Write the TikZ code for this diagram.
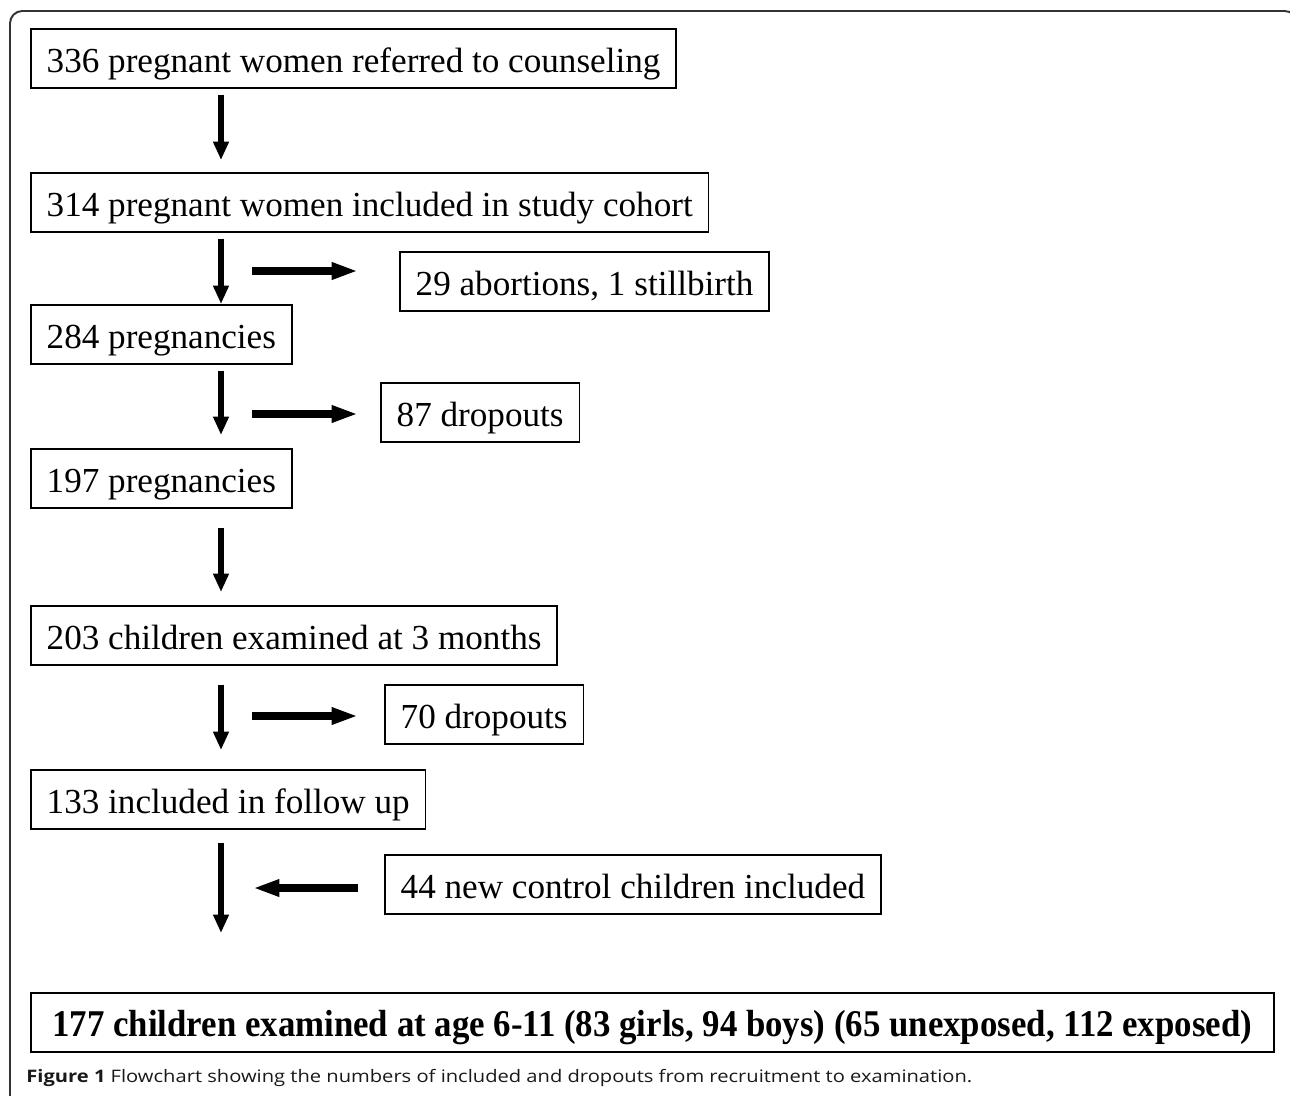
\documentclass[tikz,border=0pt]{standalone}
\usepackage{fontspec}
\usepackage{graphicx}
\setmainfont{Liberation Serif}
\newfontfamily\capfont{Open Sans}
\usetikzlibrary{arrows.meta}
\begin{document}
\begin{tikzpicture}[
     x=0.02cm,y=-0.02cm,
     blk/.style={draw,line width=1pt,anchor=north west,minimum height=1.18cm,
       inner xsep=9pt,text height=15.6pt,text depth=0pt,font=\fontsize{20}{24}\selectfont},
     varr/.style={line width=3.7pt,-{Triangle[length=10.5pt,width=8.5pt]}},
     harr/.style={line width=4.2pt,-{Triangle[length=15pt,width=9pt]}}
   ]
   \path[use as bounding box] (0,0) rectangle (1290,1095);
   \clip (0,0) rectangle (1290,1095);
   % Frame.
   \draw[line width=1.1pt,draw=black!80,rounded corners=7pt] (10,11) rectangle (1297,1130);
   % Main column.
   \node[blk] (b1) at (30,28) {336 pregnant women referred to counseling};
   \node[blk] (b2) at (30,172) {314 pregnant women included in study cohort};
   \node[blk] (b3) at (30,304) {284 pregnancies};
   \node[blk] (b4) at (30,448) {197 pregnancies};
   \node[blk] (b5) at (30,605) {203 children examined at 3 months};
   \node[blk] (b6) at (30,769) {133 included in follow up};
   \node[blk,minimum width=24.86cm,font=\fontsize{21.5}{25}\selectfont\bfseries] (b7) at (30,992)
     {\resizebox{24cm}{\height}{177 children examined at age 6-11 (83 girls, 94 boys) (65 unexposed, 112 exposed)}};
   % Side boxes.
   \node[blk] (s1) at (399,251) {29 abortions, 1 stillbirth};
   \node[blk] (s2) at (380,382) {87 dropouts};
   \node[blk] (s3) at (384,684) {70 dropouts};
   \node[blk] (s4) at (384,854) {44 new control children included};
   % Arrows.
   \coordinate (sp) at (221,0);
   \draw[varr,shorten <=3.4pt,shorten >=6.8pt] (b1.south -| sp) -- (b2.north -| sp);
   \draw[varr,shorten <=3.4pt] (b2.south -| sp) -- (b3.north -| sp);
   \draw[varr,shorten <=3.4pt,shorten >=7.4pt] (b3.south -| sp) -- (b4.north -| sp);
   \draw[varr,shorten <=10.8pt,shorten >=7.4pt] (b4.south -| sp) -- (b5.north -| sp);
   \draw[varr,shorten <=10.8pt,shorten >=10.8pt] (b5.south -| sp) -- (b6.north -| sp);
   \draw[varr,shorten <=7.4pt,shorten >=33.6pt] (b6.south -| sp) -- (b7.north -| sp);
   \coordinate (r1) at (252,271);
   \coordinate (r2) at (252,414);
   \coordinate (r3) at (252,716);
   \coordinate (l4) at (253,888);
   \draw[harr,shorten >=23.3pt] (r1) -- (r1 -| s1.west);
   \draw[harr,shorten >=12.5pt] (r2) -- (r2 -| s2.west);
   \draw[harr,shorten >=14.8pt] (r3) -- (r3 -| s3.west);
   \draw[harr,shorten <=14.8pt] (l4 -| s4.west) -- (l4);
   % Caption.
   \node[anchor=base west,inner sep=0pt,text=black!90,font=\capfont\fontsize{9.8}{11}\selectfont] (cap) at (26,1082)
     {\resizebox{18.92cm}{\height}{\textbf{Figure 1} Flowchart showing the numbers of included and dropouts from recruitment to examination.}};
\end{tikzpicture}
\end{document}
